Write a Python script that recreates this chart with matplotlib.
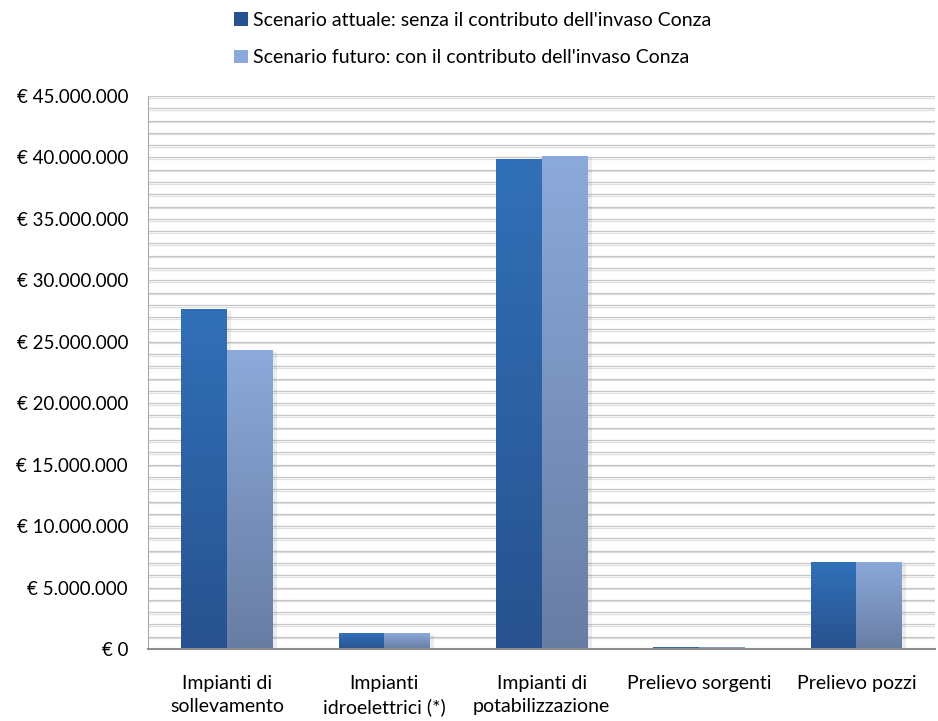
import matplotlib
matplotlib.use("Agg")
import matplotlib.pyplot as plt
import matplotlib.patheffects as pe
from matplotlib.colors import LinearSegmentedColormap
from matplotlib.ticker import MultipleLocator, FuncFormatter
from matplotlib.patches import Patch
import numpy as np

plt.rcParams['font.family'] = ['Lato', 'DejaVu Sans']

categorie = ['Impianti di\nsollevamento', 'Impianti\nidroelettrici (*)',
             'Impianti di\npotabilizzazione', 'Prelievo sorgenti', 'Prelievo pozzi']
attuale = [27.6e6, 1.25e6, 39.8e6, 0.15e6, 7.0e6]
futuro = [24.3e6, 1.25e6, 40.1e6, 0.15e6, 7.0e6]
serie = ["Scenario attuale: senza il contributo dell'invaso Conza",
         "Scenario futuro: con il contributo dell'invaso Conza"]

# gradient colours: (top, bottom)
grad_attuale = ('#3170B8', '#28528F')
grad_futuro = ('#8BA9DA', '#687DA3')

fig = plt.figure(figsize=(9.38, 7.21), dpi=100)
ax = fig.add_axes([0.158, 0.0999, 0.839, 0.767])

x = np.arange(len(categorie))
w = 0.29
b1 = ax.bar(x - w / 2, attuale, w, color=grad_attuale[0], label=serie[0], zorder=3)
b2 = ax.bar(x + w / 2, futuro, w, color=grad_futuro[0], label=serie[1], zorder=3)


def sfuma(bars, colori):
    cmap = LinearSegmentedColormap.from_list('g', [colori[1], colori[0]])
    grad = np.linspace(0, 1, 256).reshape(-1, 1)
    for p in bars:
        x0, y0 = p.get_x(), p.get_y()
        x1, y1 = x0 + p.get_width(), y0 + p.get_height()
        p.set_path_effects([pe.SimplePatchShadow(offset=(3, -1), alpha=0.15, shadow_rgbFace='gray')])
        ax.imshow(grad, cmap=cmap, extent=[x0, x1, y0, y1], origin='lower',
                  aspect='auto', zorder=3.5, interpolation='bicubic')


sfuma(b1, grad_attuale)
sfuma(b2, grad_futuro)
ax.set_xlim(-0.5, len(categorie) - 0.5)
ax.set_ylim(0, 45e6)

# horizontal gridlines every million
for v in np.arange(1e6, 45.5e6, 1e6):
    ax.axhline(v, color='#C6C6C6', lw=0.9, zorder=1,
               path_effects=[pe.SimpleLineShadow(offset=(0, -1.2), alpha=0.12), pe.Normal()])

ax.yaxis.set_major_locator(MultipleLocator(5e6))
ax.yaxis.set_major_formatter(FuncFormatter(
    lambda v, _: '€ 0' if v == 0 else '€ ' + f'{int(round(v)):,}'.replace(',', '.')))
ax.tick_params(axis='y', length=0, labelsize=13.5, pad=14.5, colors='black')
ax.set_xticks(x)
ax.set_xticklabels(categorie, fontsize=14, linespacing=1.4)
ax.tick_params(axis='x', length=0, pad=19)

for s in ['top', 'right']:
    ax.spines[s].set_visible(False)
ax.spines['left'].set_color('#A8A8A8')
ax.spines['bottom'].set_color('#8C8C8C')
ax.spines['bottom'].set_linewidth(1.5)
ax.spines['left'].set_zorder(4)
ax.spines['bottom'].set_zorder(4)

handles = [Patch(facecolor=grad_attuale[1], edgecolor='none'),
           Patch(facecolor=grad_futuro[0], edgecolor='none')]
fig.legend(handles, serie, loc='upper left', bbox_to_anchor=(0.231, 1.008),
           frameon=False, fontsize=14, handlelength=0.7, handleheight=0.7,
           handletextpad=0.25, labelspacing=1.05)

fig.savefig('out.png', dpi=100)
